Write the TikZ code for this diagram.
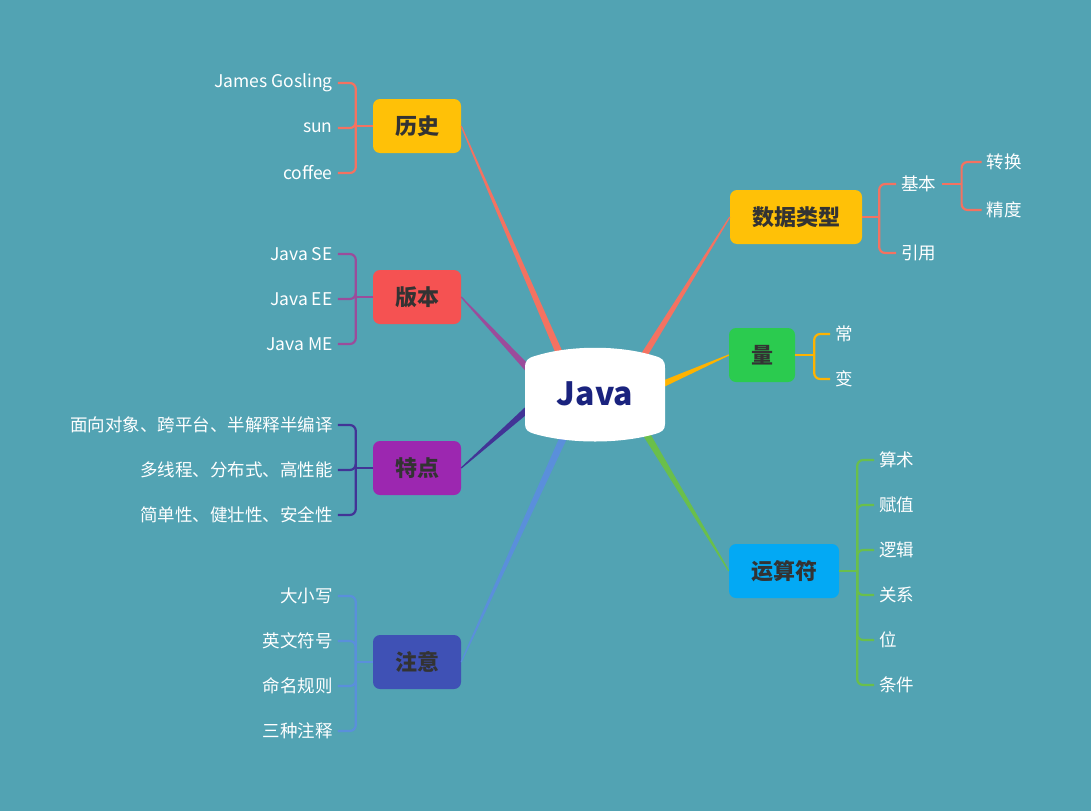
\documentclass[tikz,border=0pt]{standalone}
\usepackage{fontspec}
\setmainfont{Noto Sans CJK SC}
\usetikzlibrary{positioning,calc}
\definecolor{bgteal}{HTML}{52A3B3}
\definecolor{coral}{HTML}{F47261}
\definecolor{amber}{HTML}{FFC107}
\definecolor{amberline}{HTML}{FFB300}
\definecolor{redn}{HTML}{F55252}
\definecolor{purplen}{HTML}{9C27B0}
\definecolor{plum}{HTML}{9B4C9B}
\definecolor{indigon}{HTML}{3F51B5}
\definecolor{deepind}{HTML}{423496}
\definecolor{skyline}{HTML}{5A8FDB}
\definecolor{greenn}{HTML}{2BCB4F}
\definecolor{greenline}{HTML}{6ABF4B}
\definecolor{bluen}{HTML}{03A9F4}
\definecolor{nodetext}{HTML}{333333}
\definecolor{javatext}{HTML}{1A237E}
% tapered branch from a hidden start point to a topic node
\newcommand{\branch}[3]{%
  \fill[#3] ($(#1)!4pt!90:(#2)$) -- ($(#1)!4pt!-90:(#2)$)
    -- ($(#2)!0.6pt!90:(#1)$) -- ($(#2)!0.6pt!-90:(#1)$) -- cycle;}

\begin{document}
\begin{tikzpicture}[x=1pt, y=-1pt,
  topic/.style={rounded corners=7pt, minimum height=54pt, inner xsep=22pt,
                font=\bfseries\fontsize{22}{26}\selectfont, text=nodetext},
  leaf/.style={font=\fontsize{17.5}{20}\selectfont, text=white, inner xsep=5pt, yshift=-2pt},
  brk/.style={line width=2.2pt, rounded corners=6pt}]
\path[fill=bgteal, use as bounding box] (0,0) rectangle (1091,811);

% topics
\node[topic, fill=amber] (lishi) at (417,126) {历史};
\node[topic, fill=redn] (banben) at (417,297) {版本};
\node[topic, fill=purplen] (tedian) at (417,468) {特点};
\node[topic, fill=indigon] (zhuyi) at (417,662) {注意};
\node[topic, fill=amber] (shuju) at (796,217) {数据类型};
\node[topic, fill=greenn] (liang) at (762,355) {量};
\node[topic, fill=bluen] (yunsuan) at (784,571) {运算符};

% left leaves
\node[leaf, left=35pt of lishi, yshift=45pt] (gosling) {James Gosling};
\node[leaf, left=35pt of lishi] (sun) {sun};
\node[leaf, left=35pt of lishi, yshift=-45pt] (coffee) {coffee};
\node[leaf, left=35pt of banben, yshift=45pt] (se) {Java SE};
\node[leaf, left=35pt of banben] (ee) {Java EE};
\node[leaf, left=35pt of banben, yshift=-45pt] (me) {Java ME};
\node[leaf, left=35pt of tedian, yshift=45pt] (oop) {面向对象、跨平台、半解释半编译};
\node[leaf, left=35pt of tedian] (thread) {多线程、分布式、高性能};
\node[leaf, left=35pt of tedian, yshift=-45pt] (safe) {简单性、健壮性、安全性};
\node[leaf, left=35pt of zhuyi, yshift=68pt] (case) {大小写};
\node[leaf, left=35pt of zhuyi, yshift=23pt] (symbol) {英文符号};
\node[leaf, left=35pt of zhuyi, yshift=-22pt] (naming) {命名规则};
\node[leaf, left=35pt of zhuyi, yshift=-67pt] (comment) {三种注释};

% right leaves
\node[leaf, right=34pt of shuju, yshift=35pt] (jiben) {基本};
\node[leaf, right=34pt of shuju, yshift=-34pt] (yinyong) {引用};
\node[leaf, right=40pt of jiben, yshift=24pt] (zhuanhuan) {转换};
\node[leaf, right=40pt of jiben, yshift=-24pt] (jingdu) {精度};
\node[leaf, right=35pt of liang, yshift=23pt] (chang) {常};
\node[leaf, right=35pt of liang, yshift=-22pt] (bian) {变};
\node[leaf, right=35pt of yunsuan, yshift=113pt] (suanshu) {算术};
\node[leaf, right=35pt of yunsuan, yshift=68pt] (fuzhi) {赋值};
\node[leaf, right=35pt of yunsuan, yshift=23pt] (luoji) {逻辑};
\node[leaf, right=35pt of yunsuan, yshift=-22pt] (guanxi) {关系};
\node[leaf, right=35pt of yunsuan, yshift=-67pt] (wei) {位};
\node[leaf, right=35pt of yunsuan, yshift=-112pt] (tiaojian) {条件};

% brackets
\draw[brk, coral] (lishi.west) -- ++(-17pt,0) coordinate (lishi-j);
\foreach \c in {gosling,sun,coffee} \draw[brk, coral] (lishi-j) |- (\c.east);
\draw[brk, plum] (banben.west) -- ++(-17pt,0) coordinate (banben-j);
\foreach \c in {se,ee,me} \draw[brk, plum] (banben-j) |- (\c.east);
\draw[brk, deepind] (tedian.west) -- ++(-17pt,0) coordinate (tedian-j);
\foreach \c in {oop,thread,safe} \draw[brk, deepind] (tedian-j) |- (\c.east);
\draw[brk, skyline] (zhuyi.west) -- ++(-17pt,0) coordinate (zhuyi-j);
\foreach \c in {case,symbol,naming,comment} \draw[brk, skyline] (zhuyi-j) |- (\c.east);
\draw[brk, coral] (shuju.east) -- ++(17pt,0) coordinate (shuju-j);
\foreach \c in {jiben,yinyong} \draw[brk, coral] (shuju-j) |- (\c.west);
\draw[brk, coral] (jiben.east) -- ++(20pt,0) coordinate (jiben-j);
\foreach \c in {zhuanhuan,jingdu} \draw[brk, coral] (jiben-j) |- (\c.west);
\draw[brk, amberline] (liang.east) -- ++(19pt,0) coordinate (liang-j);
\foreach \c in {chang,bian} \draw[brk, amberline] (liang-j) |- (\c.west);
\draw[brk, greenline] (yunsuan.east) -- ++(18pt,0) coordinate (yunsuan-j);
\foreach \c in {suanshu,fuzhi,luoji,guanxi,wei,tiaojian}
  \draw[brk, greenline] (yunsuan-j) |- (\c.west);

% branches from the centre
\coordinate (s-lishi) at (577,394);
\coordinate (s-banben) at (545,387);
\coordinate (s-tedian) at (545,394);
\coordinate (s-zhuyi) at (576,410);
\coordinate (s-shuju) at (620,394);
\coordinate (s-liang) at (640,394);
\coordinate (s-yunsuan) at (633,412);
\branch{s-lishi}{lishi.east}{coral}
\branch{s-banben}{banben.east}{plum}
\branch{s-tedian}{tedian.east}{deepind}
\branch{s-zhuyi}{zhuyi.east}{skyline}
\branch{s-shuju}{shuju.west}{coral}
\branch{s-liang}{liang.west}{amberline}
\branch{s-yunsuan}{yunsuan.west}{greenline}

% centre
\fill[white] (525,368) .. controls (525,360) and (528,358) .. (535,356)
  .. controls (570,345) and (620,345) .. (655,356)
  .. controls (662,358) and (665,360) .. (665,368) -- (665,424)
  .. controls (665,430) and (662,432) .. (655,434)
  .. controls (620,444) and (570,444) .. (535,434)
  .. controls (528,432) and (525,430) .. (525,424) -- cycle;
\node[text=javatext, font=\bfseries\fontsize{32}{36}\selectfont] (java) at (595,394) {Java};
\end{tikzpicture}
\end{document}
